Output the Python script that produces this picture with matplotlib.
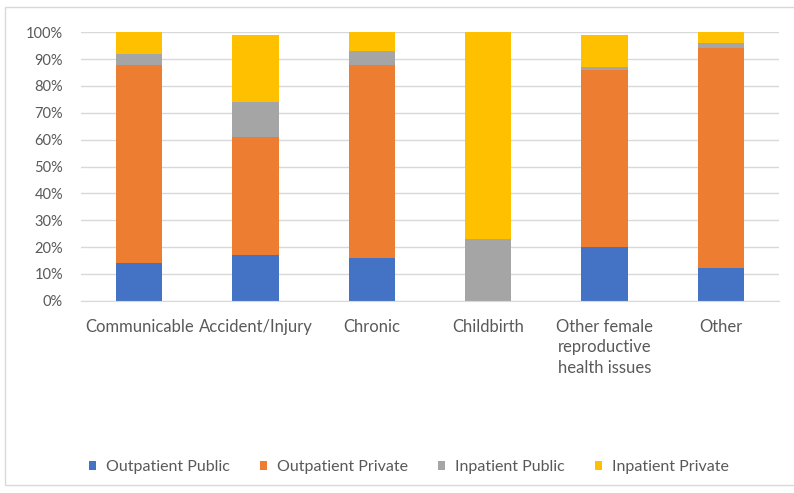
import matplotlib.pyplot as plt
import numpy as np
from matplotlib.patches import Rectangle
from matplotlib.ticker import PercentFormatter

plt.rcParams["font.family"] = ["Lato", "DejaVu Sans"]

categories = [
    "Communicable",
    "Accident/Injury",
    "Chronic",
    "Childbirth",
    "Other female\nreproductive\nhealth issues",
    "Other",
]
outpatient_public = [14, 17, 16, 0, 20, 12]
outpatient_private = [74, 44, 72, 0, 66, 82]
inpatient_public = [4, 13, 5, 23, 1, 2]
inpatient_private = [8, 25, 7, 77, 12, 4]

series = [
    ("Outpatient Public", outpatient_public, "#4472C4"),
    ("Outpatient Private", outpatient_private, "#ED7D31"),
    ("Inpatient Public", inpatient_public, "#A5A5A5"),
    ("Inpatient Private", inpatient_private, "#FFC000"),
]

fig = plt.figure(figsize=(7.94, 4.93), dpi=100)
ax = fig.add_axes([81 / 794, 1 - 300.7 / 493, 698 / 794, 268.4 / 493])

# chart frame
fig.patches.append(
    Rectangle((5 / 794, 1 - 485 / 493), 1.2, 478 / 493, transform=fig.transFigure,
              fill=False, edgecolor="#D9D9D9", linewidth=1)
)

x = np.arange(len(categories))
bottom = np.zeros(len(categories))
for label, vals, color in series:
    vals = np.array(vals, dtype=float)
    ax.bar(x, vals, 0.4, bottom=bottom, color=color, label=label, zorder=2)
    bottom += vals

ax.set_xlim(-0.5, len(categories) - 0.5)
ax.set_ylim(0, 100)
ax.set_yticks(np.arange(0, 101, 10))
ax.yaxis.set_major_formatter(PercentFormatter(decimals=0))
ax.grid(axis="y", color="#D9D9D9", linewidth=1, zorder=0)
ax.set_xticks(x)
ax.set_xticklabels(categories, linespacing=1.35)
for side in ["top", "right", "left"]:
    ax.spines[side].set_visible(False)
ax.spines["bottom"].set_color("#D9D9D9")
ax.tick_params(axis="both", length=0, colors="#595959")
ax.tick_params(axis="y", pad=13, labelsize=10.5)
ax.tick_params(axis="x", pad=13, labelsize=12)

fig.legend(loc="center", bbox_to_anchor=(409 / 794, 1 - 467 / 493), ncol=4,
           frameon=False, fontsize=11.5, labelcolor="#595959",
           handlelength=0.45, handleheight=0.45, handletextpad=0.6, columnspacing=1.9)

fig.savefig("out.png", dpi=100)
